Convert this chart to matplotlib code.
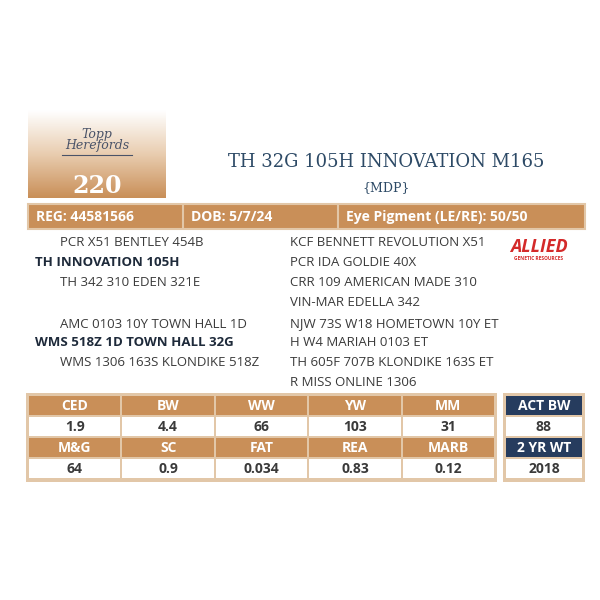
import matplotlib
matplotlib.use("Agg")
import matplotlib.pyplot as plt
from matplotlib.patches import Rectangle
from matplotlib.colors import LinearSegmentedColormap
import numpy as np

lot = "220"
title = "TH 32G 105H INNOVATION M165"
subtitle = "{MDP}"
header = ["REG: 44581566", "DOB: 5/7/24", "Eye Pigment (LE/RE): 50/50"]
left_ped = ["PCR X51 BENTLEY 454B", "TH INNOVATION 105H", "TH 342 310 EDEN 321E", "",
            "AMC 0103 10Y TOWN HALL 1D", "WMS 518Z 1D TOWN HALL 32G", "WMS 1306 163S KLONDIKE 518Z", ""]
right_ped = ["KCF BENNETT REVOLUTION X51", "PCR IDA GOLDIE 40X", "CRR 109 AMERICAN MADE 310",
             "VIN-MAR EDELLA 342", "NJW 73S W18 HOMETOWN 10Y ET", "H W4 MARIAH 0103 ET",
             "TH 605F 707B KLONDIKE 163S ET", "R MISS ONLINE 1306"]
epd_h1 = ["CED", "BW", "WW", "YW", "MM"]
epd_v1 = ["1.9", "4.4", "66", "103", "31"]
epd_h2 = ["M&G", "SC", "FAT", "REA", "MARB"]
epd_v2 = ["64", "0.9", "0.034", "0.83", "0.12"]
side_h = ["ACT BW", "2 YR WT"]
side_v = ["88", "2018"]

TAN = "#c98f58"
NAVY = "#263c5e"
TXT = "#3a3a3a"
BORD = "#e2c7a8"

fig = plt.figure(figsize=(6, 6), dpi=100)
ax = fig.add_axes([0, 0, 1, 1])
ax.set_xlim(0, 600); ax.set_ylim(600, 0); ax.axis("off")
F = "Open Sans"

grad = np.linspace(0, 1, 100)[:, None]
cm = LinearSegmentedColormap.from_list("g", ["#ffffff", "#e9cdb0", TAN])
ax.imshow(grad, extent=(28, 166, 198, 110), cmap=cm, aspect="auto", zorder=0)
ax.text(97, 140, "Topp\nHerefords", ha="center", va="center", fontsize=9, family="DejaVu Serif",
        style="italic", color="#4a5368", linespacing=0.8)
ax.plot([62, 132], [155, 155], color="#4a5368", lw=0.8)
ax.text(97, 186, lot, ha="center", va="center", fontsize=17, family="DejaVu Serif", color="white", weight="bold")

ax.text(386, 162, title, ha="center", va="center", fontsize=13, family="DejaVu Serif", color="#2d4a66")
ax.text(386, 188, subtitle, ha="center", va="center", fontsize=9, family="DejaVu Serif", color="#2d4a66")

ax.add_patch(Rectangle((28, 204), 557, 25, facecolor=TAN, edgecolor=BORD, lw=1.5))
for xd in [183, 338]:
    ax.plot([xd, xd], [205, 228], color=BORD, lw=1.5)
for x, t in zip([36, 191, 346], header):
    ax.text(x, 217, t, ha="left", va="center", fontsize=10, family=F, weight="bold", color="white")

ys = [243, 262, 283, 302, 324, 343, 362, 382]
for y, l, r in zip(ys, left_ped, right_ped):
    if l:
        bold = l in ("TH INNOVATION 105H", "WMS 518Z 1D TOWN HALL 32G")
        ax.text(35 if bold else 60, y, l, ha="left", va="center", fontsize=9.5, family=F,
                weight="bold" if bold else "normal", color="#1e2a3a" if bold else TXT)
    ax.text(290, y, r, ha="left", va="center", fontsize=9.5, family=F, color=TXT)

ax.text(539, 247, "ALLIED", ha="center", va="center", fontsize=13, family=F, weight="bold",
        style="italic", color="#d42a2a")
ax.text(539, 259, "GENETIC RESOURCES", ha="center", va="center", fontsize=3.5, family=F,
        weight="bold", color="#d42a2a")

x0, w = 28, 93.4
rows = [(395, epd_h1, True), (416, epd_v1, False), (437, epd_h2, True), (458, epd_v2, False)]
ax.add_patch(Rectangle((x0 - 2, 393), 5 * w + 4, 89, facecolor=BORD, edgecolor="none"))
for y, vals, hdr in rows:
    for i, v in enumerate(vals):
        ax.add_patch(Rectangle((x0 + i * w + 1, y + 1), w - 2, 19,
                               facecolor=TAN if hdr else "white", edgecolor="none"))
        ax.text(x0 + i * w + w / 2, y + 11, v, ha="center", va="center", fontsize=10, family=F,
                weight="bold", color="white" if hdr else TXT)
sx, sw = 505, 78
ax.add_patch(Rectangle((sx - 2, 393), sw + 4, 89, facecolor=BORD, edgecolor="none"))
for k, (y, hdr) in enumerate([(395, True), (416, False), (437, True), (458, False)]):
    v = side_h[k // 2] if hdr else side_v[k // 2]
    ax.add_patch(Rectangle((sx + 1, y + 1), sw - 2, 19, facecolor=NAVY if hdr else "white", edgecolor="none"))
    ax.text(sx + sw / 2, y + 11, v, ha="center", va="center", fontsize=10, family=F,
            weight="bold", color="white" if hdr else TXT)

fig.savefig("out.png", dpi=100)
